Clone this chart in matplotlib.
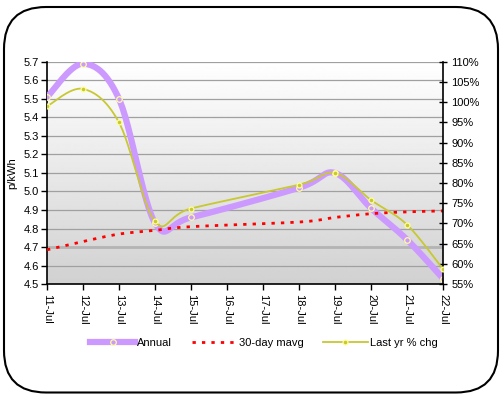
import numpy as np
import matplotlib.pyplot as plt
from matplotlib.patches import FancyBboxPatch
from matplotlib.lines import Line2D

plt.rcParams['font.family'] = ['Liberation Sans', 'DejaVu Sans']
plt.rcParams['font.size'] = 8

## data ##
days = [11, 12, 13, 14, 15, 18, 19, 20, 21, 22]
annual = [5.51, 5.69, 5.50, 4.83, 4.86, 5.02, 5.10, 4.91, 4.74, 4.53]
mavg_30 = [4.685, 4.73, 4.77, 4.79, 4.81, 4.835, 4.86, 4.88, 4.89, 4.895]
last_yr_chg = [99.0, 103.3, 95.0, 70.5, 73.7, 79.6, 82.5, 75.8, 69.7, 58.7]
tick_days = list(range(11, 23))
tick_labels = ['%d-Jul' % d for d in tick_days]

PURPLE = '#cc99ff'
OLIVE = '#c8c832'
PALE = '#ffff99'


def smooth(x, y, n=30):
    # excel style smoothed line: bezier segments, control points from neighbours
    x = np.asarray(x, float)
    y = np.asarray(y, float)
    px = np.concatenate([[x[0]], x, [x[-1]]])
    py = np.concatenate([[y[0]], y, [y[-1]]])
    t = np.linspace(0, 1, n)[:, None]
    xs, ys = [], []
    for i in range(1, len(px) - 2):
        p0 = np.array([px[i], py[i]])
        p3 = np.array([px[i + 1], py[i + 1]])
        c1 = p0 + (p3 - np.array([px[i - 1], py[i - 1]])) / 6
        c2 = p3 - (np.array([px[i + 2], py[i + 2]]) - p0) / 6
        seg = ((1 - t) ** 3) * p0 + 3 * ((1 - t) ** 2) * t * c1 + 3 * (1 - t) * t ** 2 * c2 + t ** 3 * p3
        xs.append(seg[:, 0])
        ys.append(seg[:, 1])
    return np.concatenate(xs), np.concatenate(ys)


fig = plt.figure(figsize=(5, 3.94), dpi=100)
ax = fig.add_axes([0.094, 0.279, 0.792, 0.564])

# grey gradient background of the plot area
grad = np.linspace(1.0, 0.82, 256)[:, None]
ax.imshow(grad, cmap='gray', vmin=0, vmax=1, aspect='auto',
          extent=(11, 22, 4.5, 5.7), zorder=0, origin='upper')

for v in np.arange(4.6, 5.71, 0.1):
    ax.axhline(v, color='#a0a0a0', lw=0.9, zorder=1)
ax.axhline(4.7, color='#b4b4b4', lw=2.0, zorder=1)

sx, sy = smooth(days, annual)
ax.plot(sx, sy, color=PURPLE, lw=4.5, solid_capstyle='round', zorder=3)
ax.plot(days, annual, ls='none', marker='o', ms=4, mfc=PURPLE, mec=PALE, mew=0.9, zorder=4)

mx, my = smooth(days, mavg_30)
ax.plot(mx, my, color='#ff0000', lw=2, ls=(0, (1.2, 2.2)), zorder=5)

ax.set_xlim(11, 22)
ax.set_ylim(4.5, 5.7)
ax.set_yticks(np.round(np.arange(4.5, 5.71, 0.1), 1))
ax.set_yticklabels(['%.1f' % v for v in np.arange(4.5, 5.71, 0.1)])
ax.set_xticks(tick_days)
ax.set_xticklabels(tick_labels, rotation=-90, va='top', ha='center')
ax.tick_params(axis='y', direction='out', length=4, width=1, pad=2)
ax.tick_params(axis='x', direction='out', length=4, width=1, pad=3)
ax.set_ylabel('p/kWh', labelpad=4)
ax.spines['top'].set_visible(False)
ax.spines['right'].set_visible(False)
ax.spines['left'].set_linewidth(1.2)
ax.spines['bottom'].set_linewidth(1.2)

ax2 = ax.twinx()
lx, ly = smooth(days, last_yr_chg)
ax2.plot(lx, ly, color=OLIVE, lw=1.3, zorder=3)
ax2.plot(days, last_yr_chg, ls='none', marker='o', ms=3.5, mfc=OLIVE, mec=PALE, mew=0.9, zorder=4)
ax2.set_ylim(55, 110)
ax2.set_yticks(range(55, 111, 5))
ax2.set_yticklabels(['%d%%' % v for v in range(55, 111, 5)])
ax2.tick_params(axis='y', direction='inout', length=6, width=1, pad=3)
ax2.spines['right'].set_linewidth(1.2)
for s in ['top', 'left', 'bottom']:
    ax2.spines[s].set_visible(False)

handles = [
    Line2D([], [], color=PURPLE, lw=4.5, marker='o', ms=4, mfc=PURPLE, mec=PALE, mew=0.9),
    Line2D([], [], color='#ff0000', lw=2, ls=(0, (1.2, 2.2))),
    Line2D([], [], color=OLIVE, lw=1.3, marker='o', ms=3.5, mfc=OLIVE, mec=PALE, mew=0.9),
]
fig.legend(handles, ['Annual', '30-day mavg', 'Last yr % chg'], loc='center',
           bbox_to_anchor=(0.528, 0.129), ncol=3, frameon=False, numpoints=1,
           handlelength=4.0, handletextpad=0.2, columnspacing=1.8)

# rounded chart border
border = FancyBboxPatch((4, 1.5), 494, 385.5, boxstyle='round,pad=0,rounding_size=42',
                        transform=None, fill=False, ec='black', lw=1.5)
fig.patches.append(border)

fig.savefig('out.png', dpi=100)
